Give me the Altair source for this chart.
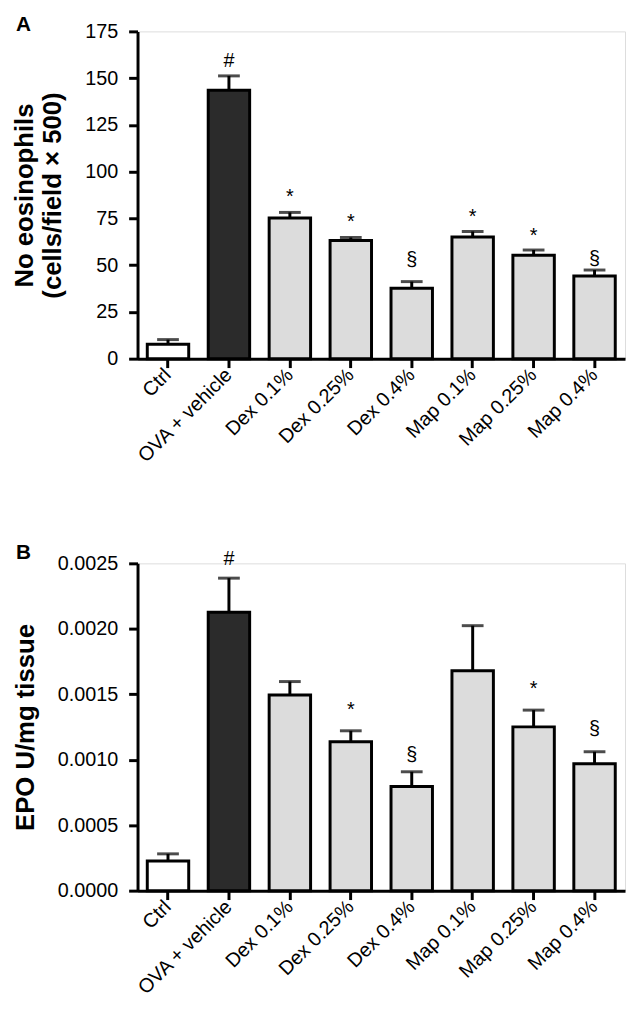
import altair as alt
import pandas as pd

FONT = "Liberation Sans"

groups = ["Ctrl", "OVA + vehicle", "Dex 0.1%", "Dex 0.25%", "Dex 0.4%",
          "Map 0.1%", "Map 0.25%", "Map 0.4%"]
fills = ["#ffffff", "#2b2b2b", "#dcdcdc", "#dcdcdc", "#dcdcdc",
         "#dcdcdc", "#dcdcdc", "#dcdcdc"]
marks = ["", "#", "*", "*", "§", "*", "*", "§"]

# Panel A: eosinophils
eos_mean = [7.7, 143.5, 75.2, 63.2, 37.7, 65.1, 55.3, 44.2]
eos_upper = [10.2, 151.2, 78.2, 64.8, 41.2, 68.0, 58.1, 47.4]
eos_mark_y = [None, 156.0, 83.2, 70.0, 49.4, 72.6, 62.3, 50.2]

# Panel B: EPO
marks_b = ["", "#", "", "*", "§", "", "*", "§"]
epo_mean = [0.000226, 0.002126, 0.001494, 0.001138, 0.000795, 0.00168, 0.001251, 0.00097]
epo_upper = [0.000281, 0.002387, 0.001597, 0.001221, 0.000908, 0.002024, 0.001379, 0.001061]
epo_mark_y = [None, 0.002488, None, 0.001333, 0.000989, None, 0.001495, 0.00119]


def panel(letter, mean, upper, mk, mky, ytitle, ydomain, yvalues, yfmt, title_pad):
    df = pd.DataFrame({"group": groups, "mean": mean, "upper": upper,
                       "fill": fills, "mark": mk, "mark_y": mky})
    xenc = alt.X("group:N", sort=groups, title=None,
                 scale=alt.Scale(paddingInner=0.32, paddingOuter=0.16),
                 axis=alt.Axis(labelAngle=-45, labelAlign="right", labelBaseline="middle",
                               labelPadding=4, labelFontSize=20, labelFont=FONT,
                               labelColor="black", domainColor="black", domainWidth=3,
                               tickColor="black", tickWidth=3, tickSize=9))
    yscale = alt.Scale(domain=ydomain, nice=False)
    yaxis = alt.Axis(values=yvalues, format=yfmt, grid=False, labelFontSize=20,
                     labelFont=FONT, labelColor="black", labelPadding=11,
                     domainColor="black", domainWidth=3, tickColor="black",
                     tickWidth=3, tickSize=9, titleFont=FONT, titleFontSize=26,
                     titleFontWeight="bold", titleColor="black", titlePadding=title_pad,
                     titleLineHeight=28)
    base = alt.Chart(df)
    bars = base.mark_bar(stroke="black", strokeWidth=3).encode(
        x=xenc,
        y=alt.Y("mean:Q", scale=yscale, axis=yaxis, title=ytitle),
        fill=alt.Fill("fill:N", scale=None),
    )
    err = base.mark_rule(color="black", strokeWidth=3).encode(
        x=alt.X("group:N", sort=groups), y="mean:Q", y2="upper:Q")
    cap = base.mark_tick(color="black", thickness=3, size=22, orient="horizontal").encode(
        x=alt.X("group:N", sort=groups), y="upper:Q")
    txt = base.transform_filter("datum.mark != ''").mark_text(
        font=FONT, fontSize=20, color="black", baseline="alphabetic").encode(
        x=alt.X("group:N", sort=groups), y="mark_y:Q", text="mark:N")
    return alt.layer(err, bars, cap, txt).properties(
        width=493, height=331,
        title=alt.TitleParams(letter, anchor="start", frame="group", dx=-123,
                              baseline="top", fontSize=21, fontWeight="bold",
                              font=FONT, color="black", offset=-14),
    )


pa = panel("A", eos_mean, eos_upper, marks, eos_mark_y,
           ["No eosinophils", "(cells/field \u00d7 500)"], [0, 175],
           [0, 25, 50, 75, 100, 125, 150, 175], "d", 20)
pb = panel("B", epo_mean, epo_upper, marks_b, epo_mark_y,
           "EPO U/mg tissue", [0, 0.0025],
           [0, 0.0005, 0.001, 0.0015, 0.002, 0.0025], ".4f", 19)

chart = alt.vconcat(pa, pb, spacing=75).properties(
    padding={"left": 3, "top": 0, "right": 0, "bottom": 0}
).configure_view(stroke=None).configure(background="white")

chart.save("out.html", embed_options={"renderer": "svg", "actions": False})
